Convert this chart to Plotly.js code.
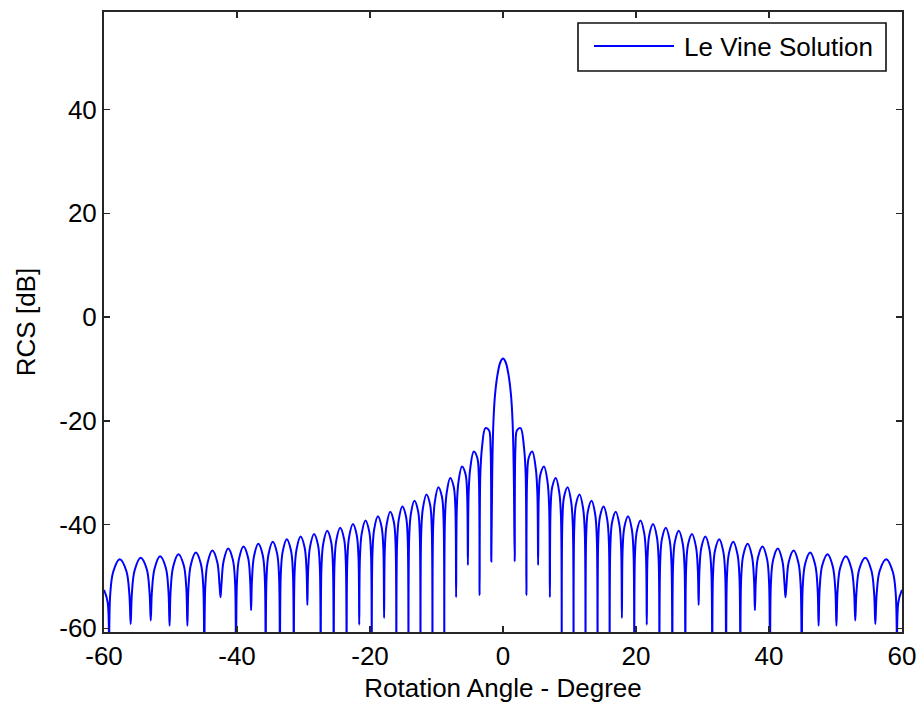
<!DOCTYPE html>
<html><head><meta charset="utf-8">
<script src="https://cdn.plot.ly/plotly-3.0.1.min.js"></script>
<style>html,body{margin:0;padding:0;background:#fff}#chart{width:920px;height:705px}</style>
</head><body><div id="chart"></div>
<script>
// Values read from the right half of the (symmetric) picture, in degrees and dB
const mainAngle = [0, 0.4, 0.8, 1.2, 1.45, 1.62];
const mainRCS   = [-8.0, -8.7, -10.9, -15.0, -20.5, -30.0];

const nullAngle = [1.76, 3.52, 5.28, 7.05, 8.83, 10.61, 12.41, 14.22, 16.04, 17.88, 19.74, 21.62, 23.52, 25.46,
                   27.42, 29.42, 31.46, 33.55, 35.69, 37.88, 40.15, 42.48, 44.92, 47.46, 50.14, 52.97, 55.99, 59.27];
const nullRCS   = [-47.1, -53.6, -47.8, -54.0, -72, -72, -72, -72, -72, -58.0, -72, -59.3, -72, -72,
                   -72, -55.5, -72, -72, -72, -56.5, -72, -54.0, -72, -59.5, -59.5, -58.5, -59.2, -72];

const lobeAngle = [
  [1.87, 2.11, 2.64, 3.17, 3.41], [3.63, 3.87, 4.40, 4.93, 5.17], [5.39, 5.63, 6.17, 6.70, 6.94],
  [7.16, 7.41, 7.94, 8.47, 8.72], [8.94, 9.19, 9.72, 10.25, 10.50], [10.72, 10.97, 11.51, 12.05, 12.30],
  [12.52, 12.77, 13.32, 13.86, 14.11], [14.33, 14.58, 15.13, 15.68, 15.93], [16.15, 16.41, 16.96, 17.51, 17.77],
  [17.99, 18.25, 18.81, 19.37, 19.63], [19.85, 20.12, 20.68, 21.24, 21.51], [21.73, 22.00, 22.57, 23.14, 23.41],
  [23.64, 23.91, 24.49, 25.07, 25.34], [25.58, 25.85, 26.44, 27.03, 27.30], [27.54, 27.82, 28.42, 29.02, 29.30],
  [29.54, 29.83, 30.44, 31.05, 31.34], [31.59, 31.88, 32.51, 33.13, 33.42], [33.68, 33.98, 34.62, 35.26, 35.56],
  [35.82, 36.13, 36.79, 37.44, 37.75], [38.02, 38.33, 39.02, 39.70, 40.01], [40.29, 40.62, 41.32, 42.01, 42.34],
  [42.63, 42.97, 43.70, 44.43, 44.77], [45.07, 45.43, 46.19, 46.95, 47.31], [47.62, 48.00, 48.80, 49.60, 49.98],
  [50.31, 50.71, 51.56, 52.40, 52.80], [53.15, 53.57, 54.48, 55.39, 55.81], [56.19, 56.65, 57.63, 58.61, 59.07]
];
const lobeRCS = [
  [-25.2, -21.8, -21.4, -25.3, -30.4], [-31.0, -27.1, -25.9, -29.2, -34.1], [-34.4, -30.3, -28.8, -31.8, -36.6],
  [-36.9, -32.7, -31.0, -33.9, -38.6], [-38.9, -34.6, -32.8, -35.6, -40.3], [-40.4, -36.1, -34.2, -36.9, -41.6],
  [-41.7, -37.4, -35.4, -38.0, -42.7], [-42.8, -38.5, -36.5, -39.1, -43.7], [-43.9, -39.5, -37.5, -40.1, -44.7],
  [-44.8, -40.5, -38.4, -40.9, -45.6], [-45.7, -41.3, -39.2, -41.7, -46.3], [-46.4, -42.0, -39.9, -42.4, -47.0],
  [-47.1, -42.7, -40.6, -43.1, -47.7], [-47.7, -43.3, -41.2, -43.7, -48.3], [-48.4, -43.9, -41.8, -44.3, -48.8],
  [-48.9, -44.4, -42.3, -44.8, -49.3], [-49.4, -45.0, -42.8, -45.2, -49.8], [-49.9, -45.5, -43.3, -45.7, -50.3],
  [-50.3, -45.9, -43.7, -46.1, -50.7], [-50.8, -46.4, -44.2, -46.6, -51.2], [-51.2, -46.8, -44.6, -47.0, -51.6],
  [-51.6, -47.2, -45.0, -47.4, -52.0], [-52.0, -47.6, -45.4, -47.8, -52.4], [-52.3, -47.9, -45.7, -48.1, -52.7],
  [-52.8, -48.3, -46.1, -48.5, -53.0], [-53.1, -48.6, -46.4, -48.8, -53.3], [-53.4, -48.9, -46.7, -49.1, -53.6]
];
const edgeAngle = [59.45, 60.0];
const edgeRCS   = [-55.0, -52.6];

const xTickVals = [-60, -40, -20, 0, 20, 40, 60];
const xTickText = ['-60', '-40', '-20', '0', '20', '40', '60'];
const yTickVals = [-60, -40, -20, 0, 20, 40];
const yTickText = ['-60', '-40', '-20', '0', '20', '40'];
const seriesName = 'Le Vine Solution';

// assemble right half in order, then mirror for the left half
const hx = [], hy = [];
mainAngle.forEach((a, i) => { hx.push(a); hy.push(mainRCS[i]); });
for (let n = 0; n < nullAngle.length; n++) {
  hx.push(nullAngle[n]); hy.push(nullRCS[n]);
  if (n < lobeAngle.length) lobeAngle[n].forEach((a, i) => { hx.push(a); hy.push(lobeRCS[n][i]); });
}
edgeAngle.forEach((a, i) => { hx.push(a); hy.push(edgeRCS[i]); });
const xs = [], ys = [];
for (let i = hx.length - 1; i >= 1; i--) { xs.push(-hx[i]); ys.push(hy[i]); }
for (let i = 0; i < hx.length; i++) { xs.push(hx[i]); ys.push(hy[i]); }

const FONT = 'Liberation Sans, Arial, sans-serif';
const FS = 26;
const LINE_BLUE = '#0000ff';

// plot area in pixels: x 104..902, y 12..632 -> helpers for the legend box (paper coords)
const W = 920, H = 705, ML = 104, MR = 18, MT = 12, MB = 73;
const px = v => (v - ML) / (W - ML - MR);
const py = v => 1 - (v - MT) / (H - MT - MB);

const axisCommon = {
  showgrid: false, zeroline: false, showline: true, linecolor: '#262626', linewidth: 2,
  mirror: 'allticks', ticks: 'inside', ticklen: 6, tickwidth: 1.5, tickcolor: '#262626',
  tickfont: {family: FONT, size: FS, color: '#000'}
};
const layout = {
  width: W, height: H,
  paper_bgcolor: '#fff', plot_bgcolor: '#fff',
  margin: {l: ML, r: MR, t: MT, b: MB},
  font: {family: FONT, size: FS, color: '#000'},
  showlegend: false,
  xaxis: Object.assign({}, axisCommon, {
    range: [-60, 60], tickmode: 'array', tickvals: xTickVals, ticktext: xTickText,
    title: {text: 'Rotation Angle - Degree', font: {family: FONT, size: FS, color: '#000'}, standoff: 9}
  }),
  yaxis: Object.assign({}, axisCommon, {
    range: [-60.7, 58.8], tickmode: 'array', tickvals: yTickVals, ticktext: yTickText,
    title: {text: 'RCS [dB]', font: {family: FONT, size: FS, color: '#000'}, standoff: 16}
  }),
  shapes: [
    {type: 'rect', xref: 'paper', yref: 'paper', x0: px(578), x1: px(886), y0: py(71), y1: py(23),
     line: {color: '#111', width: 1.6}, fillcolor: '#fff', layer: 'above'},
    {type: 'line', xref: 'paper', yref: 'paper', x0: px(594), x1: px(674), y0: py(46), y1: py(46),
     line: {color: LINE_BLUE, width: 1.8}, layer: 'above'}
  ],
  annotations: [
    {xref: 'paper', yref: 'paper', x: px(682), y: py(47), xanchor: 'left', yanchor: 'middle',
     text: seriesName, showarrow: false, font: {family: FONT, size: FS, color: '#000'}}
  ]
};
Plotly.newPlot('chart', [{
  x: xs, y: ys, type: 'scatter', mode: 'lines', name: seriesName,
  line: {color: LINE_BLUE, width: 2, shape: 'spline', smoothing: 1}
}], layout, {staticPlot: true});
</script></body></html>
